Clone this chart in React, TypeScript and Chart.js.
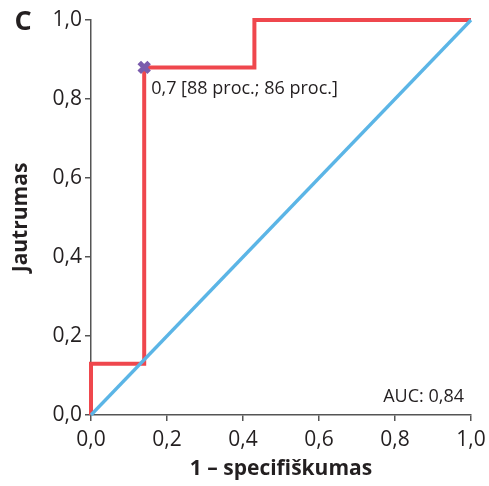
import React, { useEffect, useRef } from "react";
import { Chart, registerables } from "chart.js";

Chart.register(...registerables);

const rocX = [0, 0, 0.14, 0.14, 0.43, 0.43, 1];
const rocY = [0, 0.13, 0.13, 0.88, 0.88, 1, 1];
const diagX = [0, 1];
const diagY = [0, 1];
const cutX = [0.14];
const cutY = [0.88];
const cutLabel = "0,7 [88 proc.; 86 proc.]";
const aucLabel = "AUC: 0,84";
const panelLetter = "C";
const xTitle = "1 – specifiškumas";
const yTitle = "Jautrumas";

const FONT = "'Open Sans', 'Noto Sans', sans-serif";
const TXT = "#231f20";
const fmt = (v: number) => v.toFixed(1).replace(".", ",");

export default function App() {
  const ref = useRef<HTMLCanvasElement>(null);
  useEffect(() => {
    document.body.style.margin = "0";
    const textPlugin = {
      id: "texts",
      afterDatasetsDraw(chart: any) {
        const { ctx, scales } = chart;
        const xs = scales.x, ys = scales.y;
        ctx.save();
        ctx.fillStyle = TXT;
        ctx.font = `bold 27px ${FONT}`;
        ctx.textAlign = "center";
        ctx.textBaseline = "middle";
        ctx.fillText(panelLetter, 23, 22);
        ctx.font = `18px ${FONT}`;
        ctx.textAlign = "left";
        ctx.fillText(cutLabel, xs.getPixelForValue(cutX[0]) + 7, ys.getPixelForValue(cutY[0]) + 21);
        ctx.textAlign = "right";
        ctx.fillText(aucLabel, xs.getPixelForValue(1) - 7, ys.getPixelForValue(0) - 18);
        ctx.restore();
      },
    };
    const chart = new Chart(ref.current!, {
      type: "scatter",
      data: {
        datasets: [
          {
            data: rocX.map((x, i) => ({ x, y: rocY[i] })),
            showLine: true,
            borderColor: "#ef474d",
            borderWidth: 4,
            pointRadius: 0,
            clip: false,
            order: 3,
          },
          {
            data: diagX.map((x, i) => ({ x, y: diagY[i] })),
            showLine: true,
            borderColor: "#5bb5e6",
            borderWidth: 3.3,
            pointRadius: 0,
            clip: false,
            order: 2,
          },
          {
            data: cutX.map((x, i) => ({ x, y: cutY[i] })),
            pointStyle: "crossRot",
            pointRadius: 7,
            borderColor: "#7a5cad",
            borderWidth: 5,
            clip: false,
            order: 1,
          },
        ],
      },
      options: {
        animation: false,
        responsive: false,
        layout: { padding: { left: 0, top: 20, right: 18, bottom: 0 } },
        plugins: { legend: { display: false }, tooltip: { enabled: false } },
        scales: {
          x: {
            type: "linear",
            min: 0,
            max: 1,
            afterFit: (s: any) => { s.height = 71; s.paddingRight = 0; s.paddingLeft = 0; },
            ticks: { stepSize: 0.2, callback: (v: any) => fmt(Number(v)), color: TXT, font: { family: FONT, size: 21 }, padding: 6 },
            grid: { drawOnChartArea: false, tickLength: 6, color: "#555", lineWidth: 1.5 },
            border: { color: "#555", width: 1.5 },
            title: { display: true, text: xTitle, color: TXT, font: { family: FONT, size: 21, weight: "bold" }, padding: { top: 0, bottom: 4 } },
          },
          y: {
            type: "linear",
            min: 0,
            max: 1,
            afterFit: (s: any) => { s.width = 91; s.paddingTop = 0; s.paddingBottom = 0; },
            ticks: { stepSize: 0.2, callback: (v: any) => fmt(Number(v)), color: TXT, font: { family: FONT, size: 21 }, padding: 3 },
            grid: { drawOnChartArea: false, tickLength: 6, color: "#555", lineWidth: 1.5 },
            border: { color: "#555", width: 1.5 },
            title: { display: true, text: yTitle, color: TXT, font: { family: FONT, size: 21, weight: "bold" }, padding: { top: 8, bottom: 0 } },
          },
        },
      },
      plugins: [textPlugin],
    } as any);
    return () => chart.destroy();
  }, []);
  return (
    <div style={{ width: 489, height: 486, background: "#fff" }}>
      <canvas ref={ref} width={489} height={486} style={{ display: "block" }} />
    </div>
  );
}
